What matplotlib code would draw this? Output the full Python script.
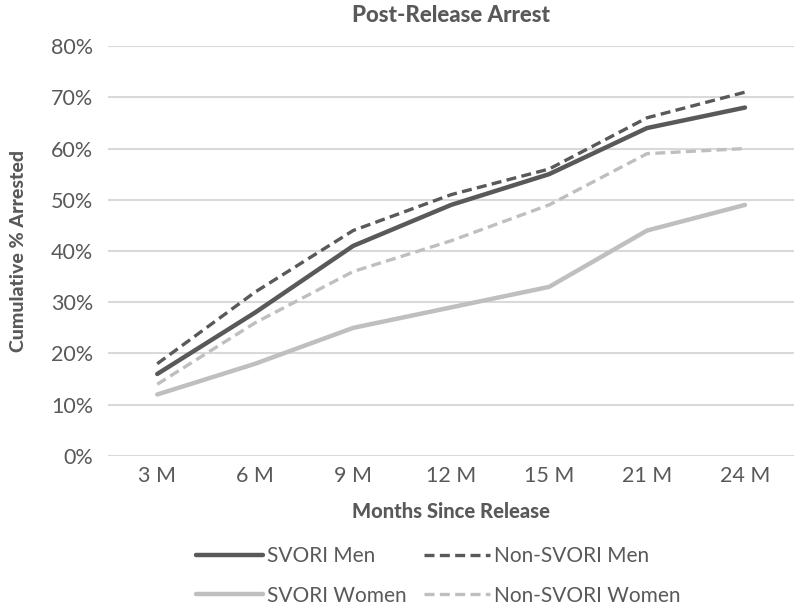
import matplotlib.pyplot as plt
import matplotlib.ticker as mticker

months = ['3 M', '6 M', '9 M', '12 M', '15 M', '21 M', '24 M']
svori_men = [16, 28, 41, 49, 55, 64, 68]
non_svori_men = [18, 32, 44, 51, 56, 66, 71]
svori_women = [12, 18, 25, 29, 33, 44, 49]
non_svori_women = [14, 26, 36, 42, 49, 59, 60]

dark = '#595959'
light = '#BFBFBF'
grid = '#D9D9D9'

plt.rcParams['font.family'] = ['Lato', 'DejaVu Sans']

fig = plt.figure(figsize=(8.02, 6.10), dpi=100)
ax = fig.add_axes([0.135, 0.2525, 0.855, 0.672])

x = range(len(months))
ax.plot(x, svori_men, color=dark, lw=3.2, label='SVORI Men', solid_capstyle='round')
ax.plot(x, non_svori_men, color=dark, lw=2.4, ls=(0, (3, 1.6)), label='Non-SVORI Men')
ax.plot(x, svori_women, color=light, lw=3.2, label='SVORI Women', solid_capstyle='round')
ax.plot(x, non_svori_women, color=light, lw=2.4, ls=(0, (3, 1.6)), label='Non-SVORI Women')

ax.set_xlim(-0.5, len(months) - 0.5)
ax.set_ylim(0, 80)
ax.set_yticks(range(0, 81, 10))
ax.yaxis.set_major_formatter(mticker.FuncFormatter(lambda v, p: f'{int(v)}%'))
ax.set_xticks(list(x))
ax.set_xticklabels(months)
ax.grid(axis='y', color=grid, lw=1.5)
ax.set_axisbelow(True)
for s in ax.spines.values():
    s.set_visible(False)
ax.tick_params(length=0, labelsize=15.5, labelcolor=dark)
ax.tick_params(axis='y', pad=11)
ax.tick_params(axis='x', pad=7)

ax.set_title('Post-Release Arrest', fontsize=16, fontweight='black', color=dark, pad=17)
ax.set_xlabel('Months Since Release', fontsize=14.5, fontweight='black', color=dark, labelpad=12)
ax.set_ylabel('Cumulative % Arrested', fontsize=14, fontweight='black', color=dark, labelpad=17)

h, l = ax.get_legend_handles_labels()
order = [0, 2, 1, 3]
leg = fig.legend([h[i] for i in order], [l[i] for i in order], ncol=2,
                 loc='center', bbox_to_anchor=(0.547, 0.056), frameon=False,
                 fontsize=15, handlelength=3.2, handletextpad=0.2,
                 columnspacing=0.8, labelspacing=0.95)
for t in leg.get_texts():
    t.set_color(dark)

fig.savefig('out.png', dpi=100)
